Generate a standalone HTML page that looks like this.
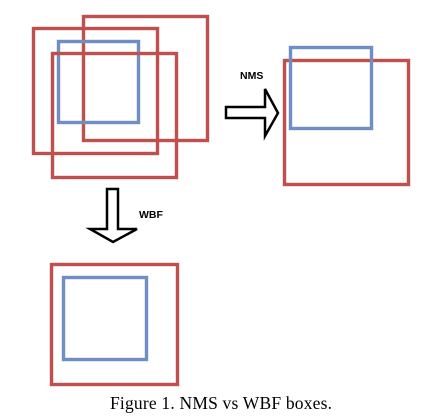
<!DOCTYPE html>
<html><head><style>body{margin:0;background:#fff}</style></head><body>
<svg width="421" height="418" xmlns="http://www.w3.org/2000/svg" style="display:block">
<g fill="none" stroke-width="3.4">
<rect x="83.5" y="16.5" width="124" height="124" stroke="#c0504d"/>
<rect x="33.5" y="28.5" width="124" height="125" stroke="#c0504d"/>
<rect x="58.5" y="41.5" width="80" height="81" stroke="#6f8fc4"/>
<rect x="52.5" y="53.5" width="124" height="124" stroke="#c0504d"/>
<rect x="284.5" y="60.5" width="124" height="124" stroke="#c0504d"/>
<rect x="290.5" y="47.5" width="81" height="81" stroke="#6f8fc4"/>
<rect x="51.5" y="264.5" width="126" height="120" stroke="#c0504d"/>
<rect x="63.5" y="277.5" width="83" height="82" stroke="#6f8fc4"/>
</g>
<polygon points="226,107 265,107 265,89 278,113 265,136 265,118 226,118" fill="#fff" stroke="#000" stroke-width="2.5" stroke-linejoin="miter"/>
<polygon points="107,189 118,189 118,229 137,229 113,242 90,229 107,229" fill="#fff" stroke="#000" stroke-width="2.5"/>
<text x="240" y="79" font-family="Liberation Sans, sans-serif" font-size="10.5" font-weight="bold">NMS</text>
<text x="139" y="218" font-family="Liberation Sans, sans-serif" font-size="10.5" font-weight="bold">WBF</text>
<text x="110" y="409" font-family="Liberation Serif, serif" font-size="17.5" textLength="222">Figure 1. NMS vs WBF boxes.</text>
</svg>
</body></html>
